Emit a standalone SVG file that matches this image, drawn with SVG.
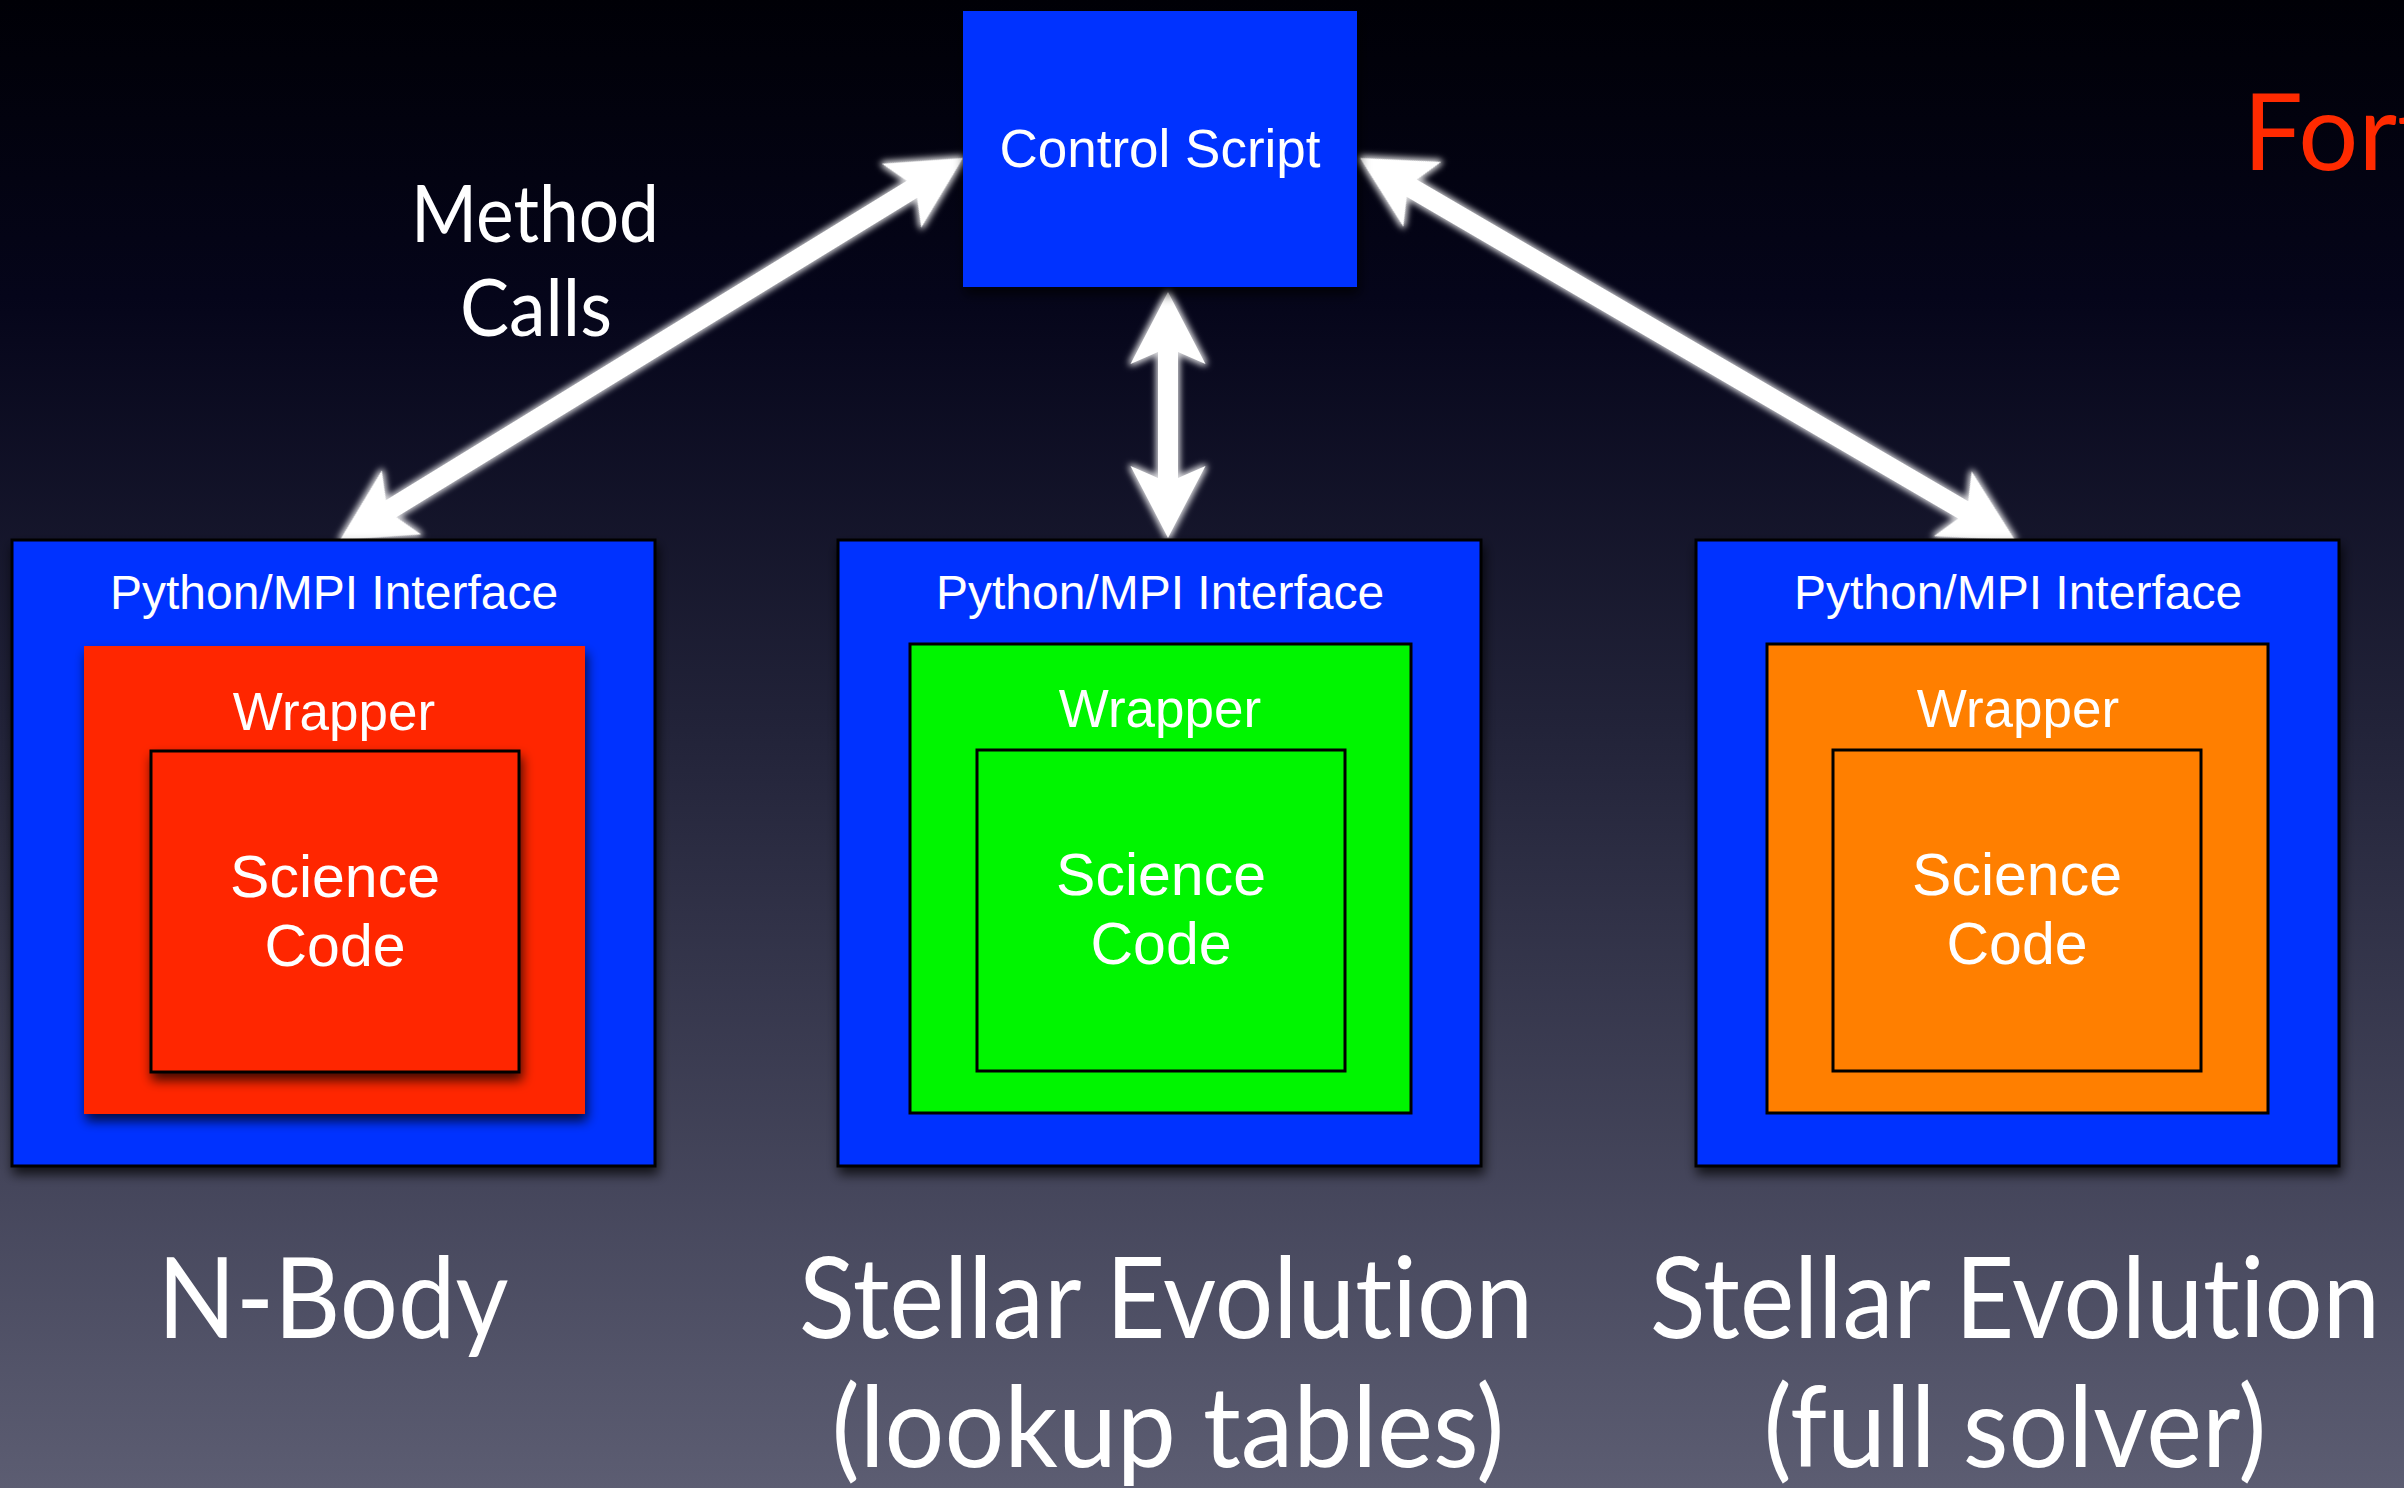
<svg xmlns="http://www.w3.org/2000/svg" width="2404" height="1488" viewBox="0 0 2404 1488">
  <defs>
    <linearGradient id="bg" x1="0" y1="0" x2="0" y2="1">
      <stop offset="0" stop-color="#000006"/>
      <stop offset="0.2" stop-color="#05051a"/>
      <stop offset="0.5" stop-color="#23243a"/>
      <stop offset="1" stop-color="#5c5d72"/>
    </linearGradient>
    <filter id="shadow" x="-10%" y="-10%" width="125%" height="125%">
      <feDropShadow dx="2" dy="7" stdDeviation="6" flood-color="#000" flood-opacity="0.75"/>
    </filter>
    <filter id="glow" x="-10%" y="-80%" width="120%" height="260%">
      <feMorphology in="SourceAlpha" operator="dilate" radius="1.5" result="d"/>
      <feGaussianBlur in="d" stdDeviation="3" result="b"/>
      <feFlood flood-color="#ffffff" flood-opacity="0.85"/>
      <feComposite in2="b" operator="in" result="g"/>
      <feMerge>
        <feMergeNode in="g"/>
        <feMergeNode in="SourceGraphic"/>
      </feMerge>
    </filter>
    <style>
      .blue { fill: #0433ff; }
      .outer { fill: #0433ff; stroke: #000; stroke-width: 3; }
      .edge { stroke: #000; stroke-width: 3; }
      .red { fill: #ff2600; }
      .green { fill: #00f500; }
      .orange { fill: #ff7f00; }
      .hv { font-family: "Liberation Sans", Arial, Helvetica, sans-serif; fill: #fff; text-anchor: middle; }
      .iface { font-size: 48px; }
      .wrap { font-size: 53px; }
      .sci { font-size: 59px; }
      .gill { font-family: Lato, "Open Sans", "DejaVu Sans", sans-serif; fill: #fff; text-anchor: middle;
              font-variant-ligatures: none; font-feature-settings: "liga" 0, "clig" 0; }
      .cap { font-size: 112px; }
      .arrow { fill: #fff; filter: url(#glow); }
    </style>
  </defs>

  <rect width="2404" height="1488" fill="url(#bg)"/>

  <!-- connectors: double-headed arrows, drawn along local x axis -->
  <g id="connectors">
    <g transform="translate(963,158) rotate(148.48)">
      <path class="arrow" d="M0,0 L72,-37.5 L60,-10 L670.8,-10 L658.8,-37.5 L730.8,0 L658.8,37.5 L670.8,10 L60,10 L72,37.5 Z"/>
    </g>
    <g transform="translate(1168,292) rotate(90)">
      <path class="arrow" d="M0,0 L72,-37.5 L60,-10 L186,-10 L174,-37.5 L246,0 L174,37.5 L186,10 L60,10 L72,37.5 Z"/>
    </g>
    <g transform="translate(1360,158) rotate(30.26)">
      <path class="arrow" d="M0,0 L72,-37.5 L60,-10 L698.3,-10 L686.3,-37.5 L758.3,0 L686.3,37.5 L698.3,10 L60,10 L72,37.5 Z"/>
    </g>
  </g>

  <!-- top-level controller -->
  <g id="node-control">
    <rect x="963" y="11" width="394" height="276" class="blue" filter="url(#shadow)"/>
    <text x="1160" y="167" class="hv" font-size="53">Control Script</text>
  </g>

  <!-- N-Body code stack -->
  <g id="node-nbody">
    <rect x="12" y="540" width="643" height="626" class="outer" filter="url(#shadow)"/>
    <text x="334" y="609" class="hv iface">Python/MPI Interface</text>
    <rect x="84" y="646" width="501" height="468" class="red" filter="url(#shadow)"/>
    <text x="334" y="730" class="hv wrap">Wrapper</text>
    <rect x="151" y="751" width="368" height="321" class="red edge" filter="url(#shadow)"/>
    <text x="335" y="897" class="hv sci">Science</text>
    <text x="335" y="966" class="hv sci">Code</text>
  </g>

  <!-- stellar evolution, lookup tables -->
  <g id="node-se-lookup">
    <rect x="838" y="540" width="643" height="626" class="outer" filter="url(#shadow)"/>
    <text x="1160" y="609" class="hv iface">Python/MPI Interface</text>
    <rect x="910" y="644" width="501" height="469" class="green edge"/>
    <text x="1160" y="727" class="hv wrap">Wrapper</text>
    <rect x="977" y="750" width="368" height="321" class="green edge"/>
    <text x="1161" y="895" class="hv sci">Science</text>
    <text x="1161" y="964" class="hv sci">Code</text>
  </g>

  <!-- stellar evolution, full solver -->
  <g id="node-se-full">
    <rect x="1696" y="540" width="643" height="626" class="outer" filter="url(#shadow)"/>
    <text x="2018" y="609" class="hv iface">Python/MPI Interface</text>
    <rect x="1767" y="644" width="501" height="469" class="orange edge"/>
    <text x="2018" y="727" class="hv wrap">Wrapper</text>
    <rect x="1833" y="750" width="368" height="321" class="orange edge"/>
    <text x="2017" y="895" class="hv sci">Science</text>
    <text x="2017" y="964" class="hv sci">Code</text>
  </g>

  <!-- captions -->
  <g id="labels">
    <text x="535" y="242" class="gill" font-size="80" textLength="248" lengthAdjust="spacingAndGlyphs">Method</text>
    <text x="536" y="336" class="gill" font-size="80" textLength="152" lengthAdjust="spacingAndGlyphs">Calls</text>
    <text x="333" y="1338" class="gill cap" textLength="351" lengthAdjust="spacingAndGlyphs">N-Body</text>
    <text x="1166" y="1338" class="gill cap" textLength="734" lengthAdjust="spacingAndGlyphs">Stellar Evolution</text>
    <text x="1168" y="1467" class="gill cap" textLength="673" lengthAdjust="spacingAndGlyphs">(lookup tables)</text>
    <text x="2380" y="1338" class="gill cap" text-anchor="end" style="text-anchor:end" textLength="730" lengthAdjust="spacingAndGlyphs">Stellar Evolution</text>
    <text x="2015" y="1467" class="gill cap" textLength="503" lengthAdjust="spacingAndGlyphs">(full solver)</text>
    <text x="2243" y="170" font-family="Lato, 'Open Sans', sans-serif" font-size="106" fill="#ff2a00">Fort</text>
  </g>
</svg>
